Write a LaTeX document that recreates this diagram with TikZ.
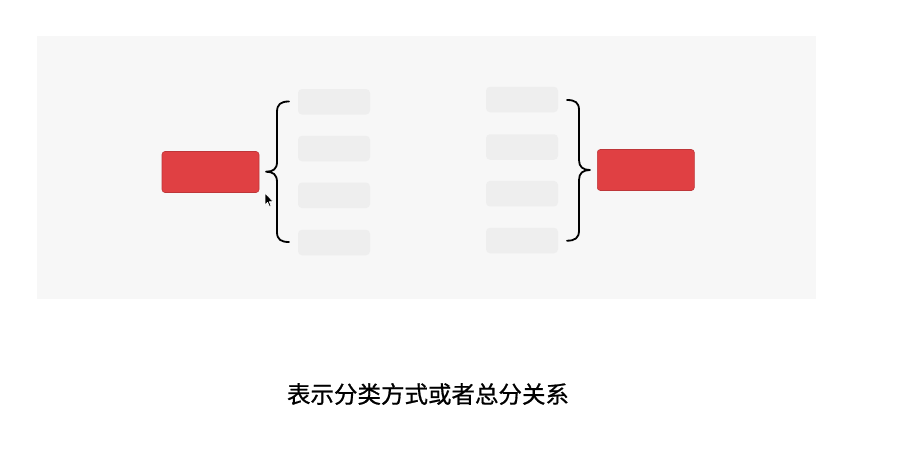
\documentclass[tikz,border=0pt]{standalone}
\usepackage{fontspec}
\newfontfamily\cjk[FakeBold=0.8]{Noto Sans CJK SC}
\definecolor{panelgray}{HTML}{F7F7F7}
\definecolor{boxgray}{HTML}{EEEEEE}
\definecolor{redbox}{HTML}{E04043}
\tikzset{
  rednode/.style={fill=redbox, draw=redbox!85!black, line width=0.6pt, rounded corners=3pt, minimum width=97pt, minimum height=41pt, inner sep=0pt},
  graynode/.style={fill=boxgray, rounded corners=4pt, minimum width=72pt, minimum height=25.5pt, inner sep=0pt},
  bracepath/.style={draw=black, line width=1.8pt, line cap=round, line join=round}
}
\begin{document}
\begin{tikzpicture}[x=1pt,y=-1pt]
\useasboundingbox (0,0) rectangle (911,459);
\fill[white] (0,0) rectangle (911,459);
\fill[panelgray] (37,36) rectangle (816,299);
% left side
\node[rednode] (L) at (210.5,172) {};
\node[graynode] (l1) at (334,101.8) {};
\node[graynode] (l2) at (334,148.5) {};
\node[graynode] (l3) at (334,195.3) {};
\node[graynode] (l4) at (334,242.5) {};
\draw[bracepath] (289,101.5) .. controls (281,101.5) and (277,104) .. (277,112) -- (277,162)
  .. controls (277,169) and (273,171.7) .. (266,171.7)
  .. controls (273,171.7) and (277,174.5) .. (277,182) -- (277,232)
  .. controls (277,239.5) and (281,242) .. (289,242);
% right side
\node[graynode] (r1) at (522,99.5) {};
\node[graynode] (r2) at (522,147) {};
\node[graynode] (r3) at (522,193.7) {};
\node[graynode] (r4) at (522,240.5) {};
\node[rednode] (R) at (645.8,170) {};
\draw[bracepath] (567,100) .. controls (575,100) and (579,102.5) .. (579,110) -- (579,160)
  .. controls (579,167) and (583,170) .. (590,170)
  .. controls (583,170) and (579,173) .. (579,180) -- (579,230.5)
  .. controls (579,238) and (575,240.7) .. (567,240.7);
% cursor
\draw[fill=black, draw=white, line width=0.6pt, line join=round] (265,193) -- (265,205) -- (267.6,202.3) -- (269.4,206.5) -- (271,205.8) -- (269.3,201.7) -- (273,201.5) -- cycle;
% caption
\node[font=\cjk\fontsize{23.5}{26}\selectfont, text=black, inner sep=0pt] (cap) at (428,394) {表示分类方式或者总分关系};
\end{tikzpicture}
\end{document}
